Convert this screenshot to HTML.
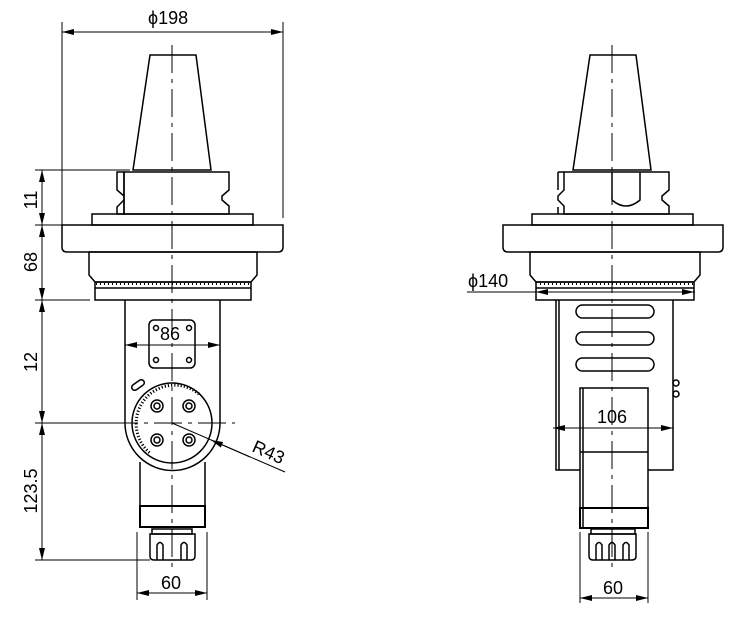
<!DOCTYPE html>
<html><head><meta charset="utf-8"><style>
html,body{margin:0;padding:0;background:#fff;}
svg{display:block;}
text{font-family:"Liberation Sans",sans-serif;font-size:18px;fill:#000;}
</style></head><body>
<svg width="740" height="633" viewBox="0 0 740 633" xmlns="http://www.w3.org/2000/svg">
<defs>
<marker id="a" viewBox="0 0 12 6" refX="12" refY="3" markerWidth="12" markerHeight="6" orient="auto-start-reverse" markerUnits="userSpaceOnUse"><path d="M0,0 L12,3 L0,6z" fill="#000"/></marker>
<pattern id="t" width="4" height="6" patternUnits="userSpaceOnUse"><rect width="1" height="3" fill="#000"/></pattern>
</defs>
<g fill="none" stroke="#000" stroke-width="1.5">
<!-- LEFT VIEW -->
<path d="M150,55 L196,55 L211,170 L133,170 Z"/>
<path d="M124,172 H229 V190 L222,196 V200 L229,206 V214 H124 Z"/>
<path d="M117,172 H124 V214 H117 V207 L124,200 V196 L117,190 Z"/>
<rect x="92" y="214" width="161" height="11"/>
<path d="M62,225 H283 V247 Q283,252 278,252 H67 Q62,252 62,247 Z"/>
<path d="M89,252 H257 V275 L251,282 H95 L89,275 Z"/>
<rect x="95" y="282" width="156" height="18"/>
<rect x="96" y="283" width="154" height="4" fill="url(#t)" stroke="none"/>
<line x1="95" y1="288" x2="251" y2="288"/>
<path d="M125,300 V423 M220,300 V423"/>
<rect x="149" y="320" width="46" height="48" rx="5"/>
<circle cx="156" cy="328" r="2.5"/><circle cx="189" cy="328" r="2.5"/><circle cx="156" cy="360" r="2.5"/><circle cx="189" cy="360" r="2.5"/>
<path d="M125,423 A47,47 0 0 0 220,423"/>
<circle cx="172" cy="423" r="40"/>
<path d="M199,394 A37,37 0 1 0 150,453" stroke-dasharray="1.2 2" stroke-width="3"/>
<circle cx="157" cy="406" r="6"/><circle cx="157" cy="406" r="3"/>
<circle cx="189" cy="406" r="6"/><circle cx="189" cy="406" r="3"/>
<circle cx="157" cy="440" r="6"/><circle cx="157" cy="440" r="3"/>
<circle cx="189" cy="440" r="6"/><circle cx="189" cy="440" r="3"/>
<rect x="131" y="382" width="14" height="6" rx="3" transform="rotate(-35 138 385)"/>
<path d="M140,462 V527 M205,462 V527"/>
<rect x="140" y="506" width="65" height="21" stroke-width="2"/>
<rect x="152" y="529" width="40" height="5"/>
<path d="M150,534 H195 V556 Q195,560 191,560 H154 Q150,560 150,556 Z"/>
<path d="M157,560 V545 Q160,540 163,545 V560 M181,560 V545 Q184,540 187,545 V560"/>
<!-- RIGHT VIEW -->
<path d="M590,55 L636,55 L651,170 L573,170 Z"/>
<path d="M564,172 H669 V190 L662,196 V200 L669,206 V214 H564 V206 L558,200 V196 L564,190 Z"/>
<path d="M558,172 H564 M558,172 V190 M558,214 V207"/>
<path d="M612,172 V200 Q626,212 640,200 V172"/>
<rect x="532" y="214" width="161" height="11"/>
<path d="M503,225 H723 V247 Q723,252 718,252 H508 Q503,252 503,247 Z"/>
<path d="M530,252 H700 V275 L694,282 H536 L530,275 Z"/>
<rect x="536" y="282" width="158" height="18"/>
<rect x="537" y="283" width="156" height="4" fill="url(#t)" stroke="none"/>
<line x1="536" y1="288" x2="694" y2="288"/>
<path d="M556,300 V470 H580 M673,300 V470 H648 M559,300 V470"/>
<rect x="576" y="305" width="78" height="13" rx="6.5"/>
<rect x="576" y="332" width="78" height="13" rx="6.5"/>
<rect x="576" y="358" width="78" height="13" rx="6.5"/>
<rect x="580" y="388" width="68" height="140"/>
<line x1="583" y1="388" x2="583" y2="528"/>
<line x1="580" y1="452" x2="648" y2="452"/>
<rect x="580" y="508" width="68" height="20" stroke-width="2"/>
<circle cx="676" cy="383" r="3"/><circle cx="676" cy="394" r="3"/>
<rect x="591" y="529" width="44" height="5"/>
<path d="M589,534 H636 V556 Q636,560 632,560 H593 Q589,560 589,556 Z"/>
<path d="M596,560 V545 Q599,540 602,545 V560 M609,560 V545 Q612,540 615,545 V560 M623,560 V545 Q626,540 629,545 V560"/>
</g>
<!-- centerlines -->
<g stroke="#000" stroke-width="1" stroke-dasharray="28 6 4 6" fill="none">
<line x1="172" y1="45" x2="172" y2="570"/>
<line x1="612" y1="45" x2="612" y2="570"/>
<line x1="110" y1="423" x2="235" y2="423"/>
</g>
<!-- dimensions -->
<g stroke="#000" stroke-width="1" fill="none">
<path d="M62,22 V225 M283,22 V218"/>
<line x1="62" y1="32" x2="283" y2="32" marker-start="url(#a)" marker-end="url(#a)"/>
<path d="M35,170 H130 M35,225 H62 M35,300 H90 M35,423 H110 M35,560 H150"/>
<line x1="42" y1="170" x2="42" y2="225" marker-start="url(#a)" marker-end="url(#a)"/>
<line x1="42" y1="225" x2="42" y2="300" marker-start="url(#a)" marker-end="url(#a)"/>
<line x1="42" y1="300" x2="42" y2="423" marker-start="url(#a)" marker-end="url(#a)"/>
<line x1="42" y1="423" x2="42" y2="560" marker-start="url(#a)" marker-end="url(#a)"/>
<line x1="125" y1="345" x2="220" y2="345" marker-start="url(#a)" marker-end="url(#a)"/>
<line x1="172" y1="423" x2="285" y2="472"/>
<line x1="250" y1="457" x2="211" y2="440" marker-end="url(#a)"/>
<path d="M137,532 V600 M207,532 V600"/>
<line x1="137" y1="593" x2="207" y2="593" marker-start="url(#a)" marker-end="url(#a)"/>
<path d="M580,532 V603 M648,532 V603"/>
<line x1="580" y1="598" x2="648" y2="598" marker-start="url(#a)" marker-end="url(#a)"/>
<line x1="553" y1="428" x2="673" y2="428" marker-start="url(#a)" marker-end="url(#a)"/>
<line x1="467" y1="292" x2="695" y2="292"/>
<line x1="560" y1="292" x2="536" y2="292" marker-end="url(#a)"/>
<line x1="670" y1="292" x2="694" y2="292" marker-end="url(#a)"/>
</g>
<text x="148" y="24">ϕ198</text>
<text x="468" y="287">ϕ140</text>
<text x="160" y="340">86</text>
<text x="597" y="423">106</text>
<text x="161" y="589">60</text>
<text x="603" y="594">60</text>
<text transform="translate(37,200) rotate(-90)" text-anchor="middle">11</text>
<text transform="translate(37,262) rotate(-90)" text-anchor="middle">68</text>
<text transform="translate(37,362) rotate(-90)" text-anchor="middle">12</text>
<text transform="translate(37,491) rotate(-90)" text-anchor="middle">123.5</text>
<text transform="translate(251,451) rotate(24)">R43</text>
</svg>
</body></html>
